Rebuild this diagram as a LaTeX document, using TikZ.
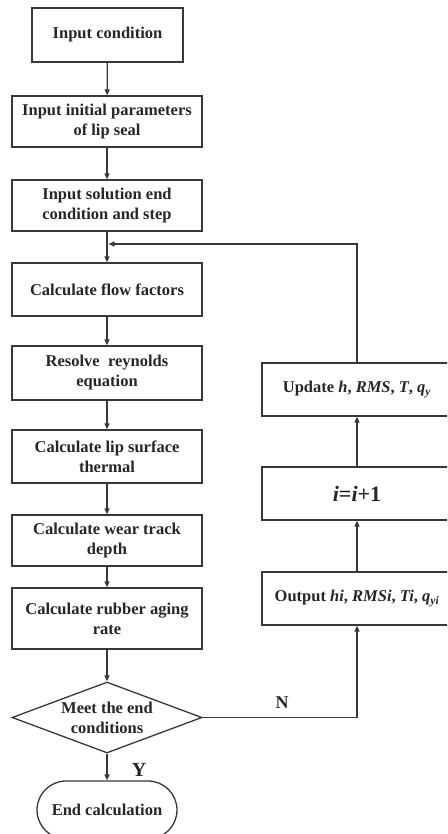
\documentclass[tikz,border=0pt]{standalone}
\usepackage{fontspec}
\setmainfont{Liberation Serif}
\usetikzlibrary{shapes.geometric,arrows.meta}
\begin{document}
\begin{tikzpicture}[x=1pt,y=-1pt,
  every node/.style={font=\fontsize{16.5}{20}\selectfont\bfseries, text=black!85, align=center, inner sep=0pt},
  box/.style={draw=black!78, line width=1.3pt, minimum width=190pt},
  arr/.style={draw=black!78, line width=1.3pt, -{Triangle[length=6pt,width=5pt]}}]
\useasboundingbox (0,0) rectangle (447,834);
\clip (0,0) rectangle (447,834);
% left column
\node[box, minimum width=151pt, minimum height=54pt] (b1) at (107.5,35) {Input condition};
\node[box, minimum height=51pt] (b2) at (107,121.5) {Input initial parameters\\of lip seal};
\node[box, minimum height=51pt] (b3) at (107,205.5) {Input solution end\\condition and step};
\node[box, minimum height=53pt] (b4) at (107,289.5) {Calculate flow factors};
\node[box, minimum height=54pt] (b5) at (107,373) {Resolve\ \ reynolds\\equation};
\node[box, minimum height=53pt] (b6) at (107,456.5) {Calculate lip surface\\thermal};
\node[box, minimum height=51pt] (b7) at (107,540.5) {Calculate wear track\\depth};
\node[box, minimum height=61pt] (b8) at (107,618.5) {Calculate rubber aging\\rate};
\node[diamond, draw=black!78, line width=1.3pt, minimum width=190pt, minimum height=71pt] (d) at (107,717.5) {};
\node (dt) at (d.center) {Meet the end\\conditions};
\node[draw=black!78, line width=1.3pt, rounded corners=29pt, minimum width=140pt, minimum height=58pt] (e) at (107,810) {End calculation};
% right column
\node[box, minimum height=53pt] (up) at (357,389.5) {Update \textit{h}, \textit{RMS}, \textit{T}, \textit{q}\textsubscript{\textit{y}}};
\node[box, minimum height=53pt, font=\fontsize{22}{26}\selectfont\bfseries] (inc) at (357,493.5) {\textit{i}=\textit{i}+1};
\node[box, minimum height=53pt] (out) at (357,598.5) {Output \textit{hi}, \textit{RMSi}, \textit{Ti}, \textit{q}\textsubscript{\textit{yi}}};
\coordinate (fb) at (108.5,244);
% connectors
\draw[arr] (b1) -- (b2);
\draw[arr] (b2) -- (b3);
\draw[arr] (b3) -- (b4);
\draw[arr] (b4) -- (b5);
\draw[arr] (b5) -- (b6);
\draw[arr] (b6) -- (b7);
\draw[arr] (b7) -- (b8);
\draw[arr] (b8) -- (d.north);
\draw[arr] (d.south) -- (e);
\draw[arr] (d.east) -| (out.south);
\draw[arr] (out) -- (inc);
\draw[arr] (inc) -- (up);
\draw[arr] (up.north) |- (fb);
% labels
\node[font=\fontsize{18}{20}\selectfont\bfseries] (nl) at (282,703) {N};
\node[font=\fontsize{20}{22}\selectfont\bfseries] (yl) at (139,770) {Y};
\end{tikzpicture}
\end{document}
